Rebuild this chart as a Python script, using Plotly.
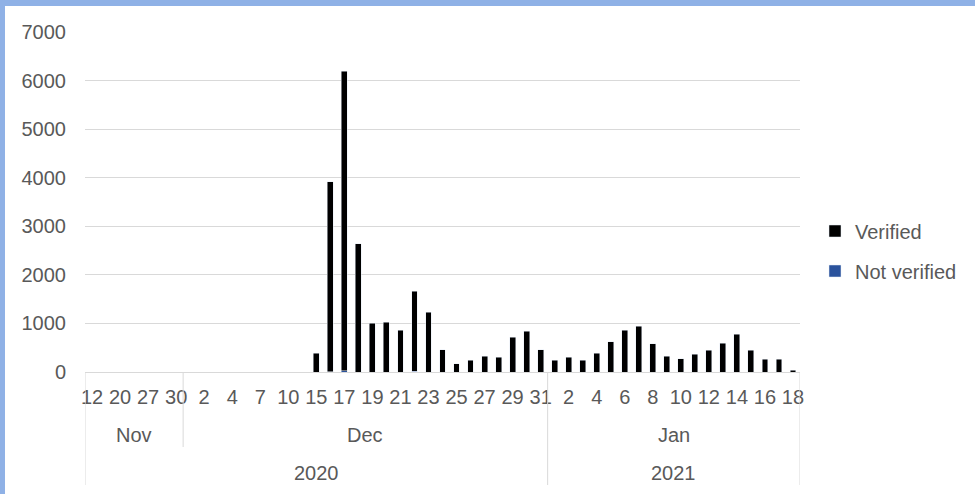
import plotly.graph_objects as go

# Daily counts, grouped by year and month
years = ["2020", "2021"]
months = ["Nov", "Dec", "Jan"]
month_year = ["2020", "2020", "2021"]
nov_days = [12, 16, 20, 24, 27, 28, 30]
dec_days = [1, 2, 3, 4, 6, 7, 9, 10, 14, 15, 16, 17, 18, 19, 20, 21, 22, 23,
            24, 25, 26, 27, 28, 29, 30, 31]
jan_days = [1, 2, 3, 4, 5, 6, 7, 8, 9, 10, 11, 12, 13, 14, 15, 16, 17, 18]

verified = (
    [0, 0, 0, 0, 0, 0, 0]
    + [0, 0, 0, 0, 0, 0, 0, 0, 0,
       388, 3904, 6166, 2643, 1006, 1027, 856, 1651, 1233,
       458, 169, 237, 326, 299, 711, 835, 457]
    + [237, 299, 237, 381, 622, 862, 938, 581, 326, 271, 361, 443, 594,
       780, 450, 258, 258, 31]
)
not_verified = (
    [0] * 7
    + [0] * 10 + [10, 30, 0, 0, 0, 0, 15, 0, 0, 0, 0, 0, 0, 0, 0, 0]
    + [0] * 18
)

day_groups = [nov_days, dec_days, jan_days]
days = nov_days + dec_days + jan_days
x = list(range(len(days)))

GREY = "#595959"
LINE = "#d9d9d9"
FONT = "Liberation Sans, Arial, sans-serif"

fig = go.Figure()
# unverified counts sit at the base of each column
fig.add_trace(go.Bar(x=x, y=not_verified, name="Not verified",
                     marker_color="#2a529c", legendgroup="n", legendrank=2))
fig.add_trace(go.Bar(x=x, y=verified, name="Verified", marker_color="#000000",
                     legendgroup="v", legendrank=1))

W, H = 975, 494
ML, MR, MT, MB = 85, 175, 32, 122
PW, PH = W - ML - MR, H - MT - MB


def px_x(p):
    return (p - ML) / PW


def px_y(p):
    return (H - MB - p) / PH


shapes = []
annotations = []

# group boundaries for the month and year rows
starts = []
pos = 0
for g in day_groups:
    starts.append(pos)
    pos += len(g)
ends = starts[1:] + [pos]

# vertical separators below the axis
bounds = sorted(set([s - 0.5 for s in starts] + [pos - 0.5]))
year_bounds = {starts[0] - 0.5, starts[2] - 0.5, pos - 0.5}
for b in bounds:
    low = px_y(485) if b in year_bounds else px_y(447)
    shapes.append(dict(type="line", xref="x", yref="paper", x0=b, x1=b,
                       y0=0, y1=low, line=dict(color=LINE, width=1)))

for m, s, e in zip(months, starts, ends):
    annotations.append(dict(x=(s + e - 1) / 2, y=px_y(435), xref="x",
                            yref="paper", text=m, showarrow=False,
                            xanchor="center", yanchor="middle",
                            font=dict(size=20, color=GREY, family=FONT)))

for yr in years:
    idx = [i for i, my in enumerate(month_year) if my == yr]
    s, e = starts[idx[0]], ends[idx[-1]]
    annotations.append(dict(x=(s + e - 1) / 2, y=px_y(473), xref="x",
                            yref="paper", text=yr, showarrow=False,
                            xanchor="center", yanchor="middle",
                            font=dict(size=20, color=GREY, family=FONT)))

# frame stripes along the top and left edges
BORDER = "#8fb1e6"
shapes.append(dict(type="rect", xref="paper", yref="paper", x0=px_x(0),
                   x1=px_x(5), y0=px_y(H), y1=px_y(0), fillcolor=BORDER,
                   line_width=0))
shapes.append(dict(type="rect", xref="paper", yref="paper", x0=px_x(0),
                   x1=px_x(W), y0=px_y(6), y1=px_y(0), fillcolor=BORDER,
                   line_width=0))

fig.update_layout(
    width=W, height=H,
    margin=dict(l=ML, r=MR, t=MT, b=MB, pad=0),
    barmode="stack",
    bargap=0.58,
    plot_bgcolor="white",
    paper_bgcolor="white",
    font=dict(family=FONT, size=20, color=GREY),
    shapes=shapes,
    annotations=annotations,
    legend=dict(x=px_x(815), y=px_y(251), xanchor="left", yanchor="middle",
                font=dict(size=20, color=GREY), tracegroupgap=11,
                bgcolor="rgba(0,0,0,0)"),
    xaxis=dict(
        range=[-0.5, len(days) - 0.5],
        tickmode="array",
        tickvals=x[::2],
        ticktext=[str(d) for d in days[::2]],
        tickangle=0,
        showgrid=False,
        showline=True, linecolor=LINE, linewidth=1,
        ticks="",
        ticklabelstandoff=7,
        tickfont=dict(size=20, color=GREY),
        zeroline=False,
    ),
    yaxis=dict(
        range=[0, 7000],
        tickvals=[0, 1000, 2000, 3000, 4000, 5000, 6000, 7000],
        showgrid=True, gridcolor=LINE, gridwidth=1,
        zeroline=False,
        showline=False,
        ticks="",
        ticklabelstandoff=18,
        tickfont=dict(size=20, color=GREY),
    ),
)

fig.write_html("out.html")
